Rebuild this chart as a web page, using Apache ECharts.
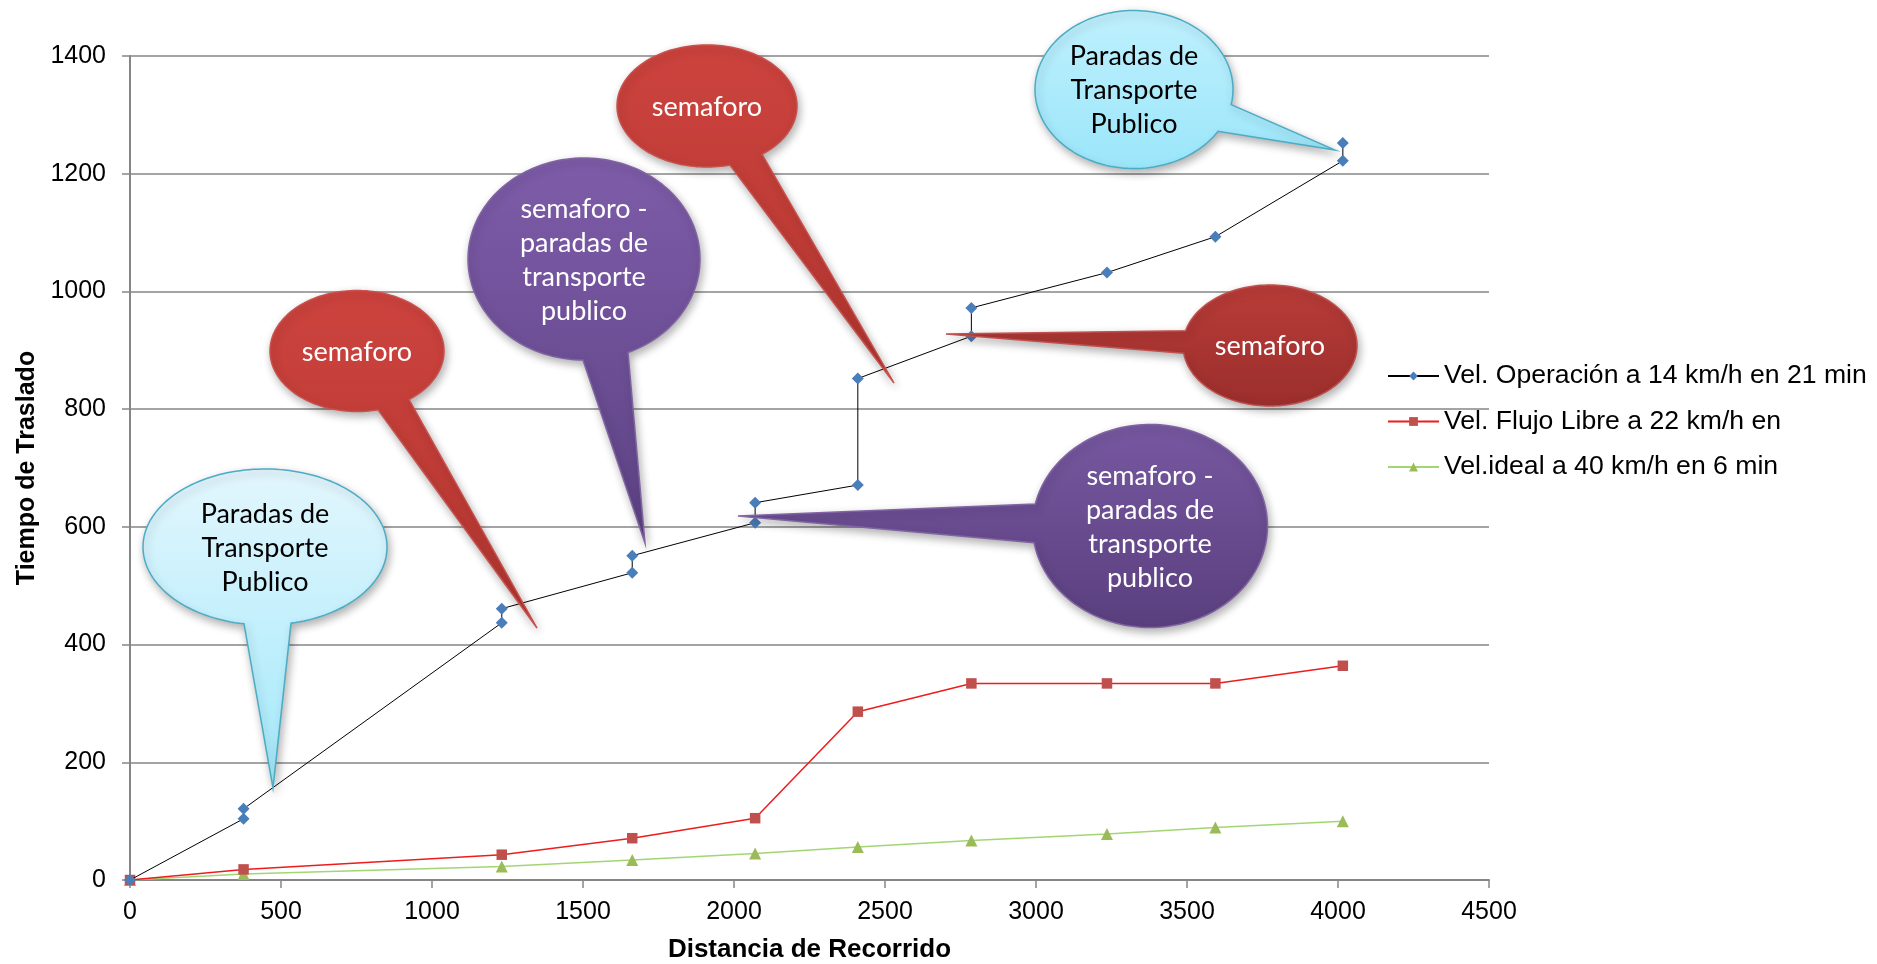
<!DOCTYPE html>
<html>
<head>
<meta charset="utf-8">
<script src="https://cdn.jsdelivr.net/npm/echarts@6/dist/echarts.min.js"></script>
<style>html,body{margin:0;padding:0;background:#fff}#c{width:1877px;height:964px}</style>
</head>
<body>
<div id="c"></div>
<script>
// ---- data ----
const seriesNames = ['Vel. Operación a 14 km/h en 21 min', 'Vel. Flujo Libre a 22 km/h en', 'Vel.ideal a 40 km/h en 6 min'];
const distances = [0, 376, 1231, 1663, 2070, 2410, 2786, 3235, 3594, 4016];
const operacionX = [0, 376, 376, 1231, 1231, 1663, 1663, 2070, 2070, 2410, 2410, 2786, 2786, 3235, 3594, 4016, 4016];
const operacionY = [0, 104, 121, 437, 461, 522, 551, 607, 641, 671, 852, 924, 972, 1032, 1093, 1222, 1252];
const flujoLibreY = [0, 18, 43, 71, 105, 286, 334, 334, 334, 364];
const idealY = [0, 10, 23, 34, 45, 56, 67, 78, 89, 100];
const xTicks = [0, 500, 1000, 1500, 2000, 2500, 3000, 3500, 4000, 4500];
const yTicks = [0, 200, 400, 600, 800, 1000, 1200, 1400];
const xTitle = 'Distancia de Recorrido';
const yTitle = 'Tiempo de Traslado';

// ---- callout annotations (pixel layout) ----
const lightBlue = {fill: ['#e3f6fd', '#a2e9fb'], stroke: '#4bacc6', color: '#000'};
const lightBlue2 = {fill: ['#bff0fd', '#9be6fa'], stroke: '#4bacc6', color: '#000'};
const red = {fill: ['#cd433e', '#b2352f'], stroke: '#c9504c', color: '#fff'};
const darkRed = {fill: ['#b93c38', '#9a2e2c'], stroke: '#c0504d', color: '#fff'};
const purple = {fill: ['#7e5ca9', '#5c4283'], stroke: '#8064a2', color: '#fff'};
const purple2 = {fill: ['#7758a1', '#5a3f7e'], stroke: '#8064a2', color: '#fff'};
const callouts = [
  {text: ['Paradas de', 'Transporte', 'Publico'], cx: 265, cy: 547, rx: 122, ry: 78, t1: 77.7, t2: 99.9, tip: [273, 788], s: lightBlue},
  {text: ['semaforo'], cx: 357, cy: 351, rx: 87, ry: 60.5, t1: 53.3, t2: 76, tip: [537, 628], s: red},
  {text: ['semaforo -', 'paradas de', 'transporte', 'publico'], cx: 584, cy: 259, rx: 116, ry: 101, t1: 67.7, t2: 90.5, tip: [645, 543], s: purple},
  {text: ['semaforo'], cx: 707, cy: 106, rx: 90, ry: 61, t1: 52.3, t2: 75.2, tip: [894, 383], s: red},
  {text: ['semaforo'], cx: 1270, cy: 345.5, rx: 87, ry: 60.5, t1: 172.6, t2: 194.2, tip: [946, 334], s: darkRed},
  {text: ['semaforo -', 'paradas de', 'transporte', 'publico'], cx: 1150, cy: 526, rx: 117.5, ry: 101.5, t1: 170.5, t2: 192.5, tip: [738, 516], s: purple2},
  {text: ['Paradas de', 'Transporte', 'Publico'], cx: 1134, cy: 89.5, rx: 99, ry: 79, t1: 11, t2: 32, tip: [1335, 150], s: lightBlue2}
];

function calloutShape(c) {
  const pts = [];
  const N = 160;
  const a0 = c.t2, a1 = c.t1 + 360;
  for (let i = 0; i <= N; i++) {
    const t = (a0 + (a1 - a0) * i / N) * Math.PI / 180;
    pts.push([c.cx + c.rx * Math.cos(t), c.cy + c.ry * Math.sin(t)]);
  }
  pts.push(c.tip);
  return pts;
}

const graphics = [];
callouts.forEach(c => {
  graphics.push({
    type: 'polygon', z: 100,
    shape: {points: calloutShape(c)},
    style: {
      fill: new echarts.graphic.LinearGradient(0, 0, 0, 1, [{offset: 0, color: c.s.fill[0]}, {offset: 1, color: c.s.fill[1]}]),
      stroke: c.s.stroke, lineWidth: 1.5,
      shadowBlur: 8, shadowOffsetX: 2, shadowOffsetY: 4, shadowColor: 'rgba(0,0,0,0.3)'
    }
  });
  graphics.push({
    type: 'text', z: 101,
    style: {
      text: c.text.join('\n'), x: c.cx, y: c.cy + 1,
      align: 'center', verticalAlign: 'middle',
      fontFamily: 'Lato', fontSize: 27, lineHeight: 34, fill: c.s.color
    }
  });
});

const axisColor = '#868686';
const plain = v => String(v);
const chart = echarts.init(document.getElementById('c'));
chart.setOption({
  animation: false,
  backgroundColor: '#fff',
  grid: {left: 130, right: 388, top: 56, bottom: 84, containLabel: false, outerBoundsMode: 'none'},
  legend: {
    orient: 'vertical', left: 1387, top: 361,
    itemWidth: 51, itemHeight: 11, itemGap: 15.5, padding: 0,
    textStyle: {fontFamily: 'Liberation Sans, Arial', fontSize: 26.6, lineHeight: 30, color: '#000'},
    data: seriesNames
  },
  xAxis: {
    type: 'value', min: xTicks[0], max: xTicks[xTicks.length - 1], interval: 500,
    name: xTitle, nameLocation: 'middle', nameGap: 57,
    nameTextStyle: {fontFamily: 'Liberation Sans, Arial', fontSize: 26, fontWeight: 'bold', color: '#000'},
    axisLine: {show: true, lineStyle: {color: axisColor, width: 2}},
    axisTick: {show: true, length: 8, lineStyle: {color: axisColor, width: 1.5}},
    axisLabel: {fontFamily: 'Liberation Sans, Arial', fontSize: 25, color: '#000', margin: 20, formatter: plain},
    splitLine: {show: false}
  },
  yAxis: {
    type: 'value', min: yTicks[0], max: yTicks[yTicks.length - 1], interval: 200,
    name: yTitle, nameLocation: 'middle', nameGap: 86, nameRotate: 90,
    nameTextStyle: {fontFamily: 'Liberation Sans, Arial', fontSize: 25, fontWeight: 'bold', color: '#000'},
    axisLine: {show: true, lineStyle: {color: axisColor, width: 2}},
    axisTick: {show: true, length: 8, lineStyle: {color: axisColor, width: 1.5}},
    axisLabel: {fontFamily: 'Liberation Sans, Arial', fontSize: 25, color: '#000', margin: 24, formatter: plain},
    splitLine: {show: true, lineStyle: {color: axisColor, width: 1.5}}
  },
  series: [
    {
      name: seriesNames[0], type: 'line',
      data: operacionX.map((x, i) => [x, operacionY[i]]),
      symbol: 'diamond', symbolSize: 12,
      lineStyle: {color: '#000', width: 1},
      itemStyle: {color: '#4a7ebb'},
      z: 4
    },
    {
      name: seriesNames[1], type: 'line',
      data: distances.map((x, i) => [x, flujoLibreY[i]]),
      symbol: 'rect', symbolSize: 10.5,
      lineStyle: {color: '#ee1c1c', width: 1.5},
      itemStyle: {color: '#c0504d'},
      z: 3
    },
    {
      name: seriesNames[2], type: 'line',
      data: distances.map((x, i) => [x, idealY[i]]),
      symbol: 'triangle', symbolSize: 12,
      lineStyle: {color: '#a3d672', width: 1.5},
      itemStyle: {color: '#9bbb59'},
      z: 2
    }
  ],
  graphic: graphics
});
</script>
</body>
</html>
